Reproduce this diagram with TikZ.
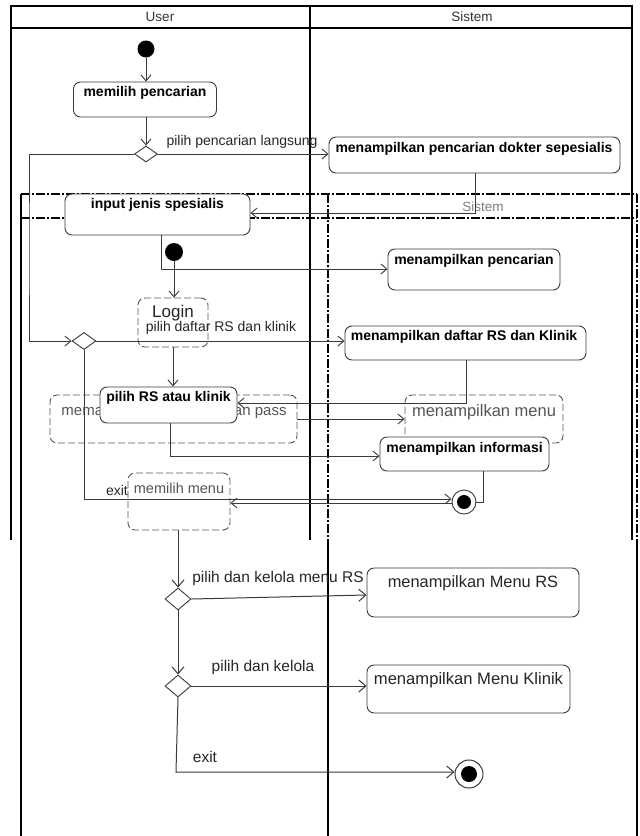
\documentclass[tikz,border=0pt]{standalone}
\usepackage{fontspec}
\setmainfont{Liberation Sans}
\usetikzlibrary{arrows.meta,shapes.geometric}
\definecolor{ln}{HTML}{3A3A3A}
\definecolor{gt}{HTML}{555555}
\tikzset{
  frame/.style={line width=1.8pt, black},
  dashframe/.style={line width=1.8pt, black, dash pattern=on 9pt off 2pt on 2pt off 2pt},
  abox/.style={draw=ln, line width=0.9pt, rounded corners=7pt, fill=white, inner sep=0pt},
  dbox/.style={abox, draw=gt, dash pattern=on 7pt off 3pt},
  btxt/.style={font=\bfseries\fontsize{14}{14}\selectfont, inner sep=0pt, text=black},
  ltxt/.style={font=\fontsize{14}{14}\selectfont, inner sep=0pt, text=black!85},
  ltxtL/.style={font=\fontsize{15.5}{15.5}\selectfont, inner sep=0pt, text=black!85},
  gtxt/.style={inner sep=0pt, text=gt},
  hdr/.style={font=\fontsize{13.5}{13.5}\selectfont, inner sep=0pt, text=black!80},
  dec/.style={diamond, draw=ln, fill=white, inner sep=0pt, line width=0.9pt},
  arr/.style={draw=ln, line width=0.9pt, -{Straight Barb[length=6pt,width=10pt]}},
  arrL/.style={draw=ln, line width=1pt, -{Straight Barb[length=7pt,width=12pt]}},
  plain/.style={draw=ln, line width=0.9pt},
}
\begin{document}
\begin{tikzpicture}[x=1pt,y=-1pt]
\useasboundingbox (0,0) rectangle (640,836);
\fill[white] (0,0) rectangle (640,836);
% second diagram frame
\draw[frame] (21,194) -- (21,836);
\draw[dashframe] (21,194) -- (637,194);
\draw[dashframe] (21,218) -- (637,218);
\draw[dashframe] (328,194) -- (328,540);
\draw[frame] (328,540) -- (328,836);
\draw[dashframe] (637,194) -- (637,540);
\draw[frame] (637,540) -- (637,836);
\node[hdr, text=gray] (s2hdr) at (483,207) {Sistem};
% top frame
\draw[frame] (11,540) -- (11,6) -- (632,6) -- (632,540);
\draw[frame] (11,28) -- (632,28);
\draw[frame] (310,6) -- (310,540);
\node[hdr] (huser) at (160,17) {User};
\node[hdr] (hsis) at (472,17) {Sistem};

% second diagram (dashed) activities
\node[circle, fill=black, minimum size=18pt, inner sep=0pt] (init2) at (174,252) {};
\node[dbox, minimum width=70pt, minimum height=49pt] (login) at (173,322.5) {};
\node[gtxt, text=black!85, font=\fontsize{17}{17}\selectfont] (logint) at (173,313) {Login};
\node[dbox, minimum width=247pt, minimum height=48pt] (masuk) at (173.5,419) {};
\node[gtxt, font=\fontsize{15}{15}\selectfont] (masukt) at (174,412) {memasukkan username dan pass};
\node[dbox, minimum width=158pt, minimum height=48pt] (menu) at (484,419) {};
\node[gtxt, font=\fontsize{16.5}{16.5}\selectfont] (menut) at (484,412) {menampilkan menu};
\node[dbox, minimum width=102pt, minimum height=57pt] (pmenu) at (179,501.5) {};
\node[gtxt, font=\fontsize{14.5}{14.5}\selectfont] (pmenut) at (179,488) {memilih menu};

% top diagram activities
\node[circle, fill=black, minimum size=17pt, inner sep=0pt] (init1) at (146,49) {};
\node[abox, minimum width=143pt, minimum height=35pt] (memilih) at (145,99.5) {};
\node[btxt] (memiliht) at (145,93) {memilih pencarian};
\node[dec, minimum width=23pt, minimum height=16pt] (dec1) at (146,154) {};
\node[abox, minimum width=291pt, minimum height=36pt] (dokter) at (474.5,155) {};
\node[btxt] (doktert) at (474,149) {menampilkan pencarian dokter sepesialis};
\node[abox, minimum width=185pt, minimum height=41pt] (input) at (157.5,214.5) {};
\node[btxt] (inputt) at (157.5,205) {input jenis spesialis};
\node[abox, minimum width=172pt, minimum height=41pt] (pencarian) at (474,269.5) {};
\node[btxt] (pencariant) at (474,261) {menampilkan pencarian};
\node[dec, minimum width=24pt, minimum height=17pt] (dec2) at (84,341) {};
\node[abox, minimum width=241pt, minimum height=34pt] (daftar) at (465.5,343) {};
\node[btxt] (daftart) at (464,337) {menampilkan daftar RS dan Klinik};
\node[abox, minimum width=137pt, minimum height=36pt] (pilihRS) at (168.5,405) {};
\node[btxt] (pilihRSt) at (168.5,398) {pilih RS atau klinik};
\node[abox, minimum width=169pt, minimum height=34pt] (informasi) at (464.5,454) {};
\node[btxt] (informasit) at (464.5,449) {menampilkan informasi};
\node[circle, draw=ln, fill=white, line width=0.9pt, minimum size=24pt, inner sep=0pt] (final1) at (464,502) {};
\node[circle, fill=black, minimum size=14pt, inner sep=0pt] (final1c) at (464,502) {};

% top diagram connectors
\coordinate (b1) at (29,250);
\coordinate (b2) at (475,213);
\coordinate (b3) at (161,269);
\coordinate (b4) at (84,499);
\coordinate (b5) at (466,403);
\coordinate (b6) at (170,456);
\coordinate (b7) at (483,502);
\draw[arr] (init1) -- (init1 |- memilih.north);
\draw[arr] (memilih.south -| dec1.north) -- (dec1.north);
\draw[arr] (dec1.east) -- (dec1.east -| dokter.west);
\node[ltxt] (l1) at (242,142) {pilih pencarian langsung};
\draw[arr] (dec1.west) -| (b1) |- (dec2.west);
\draw[arr] (b2 |- dokter.south) -- (b2) -- (b2 -| input.east);
\draw[arr] (b3 |- input.south) -- (b3) -- (b3 -| pencarian.west);
\draw[arr] (dec2.east) -- (dec2.east -| daftar.west);
\node[ltxt] (l2) at (221,328) {pilih daftar RS dan klinik};
\draw[arr] (dec2.south) -- (b4) -- (b4 -| final1.west);
\node[ltxt] (l3) at (117,490) {exit};
\draw[arr] (b5 |- daftar.south) -- (b5) -- (b5 -| pilihRS.east);
\draw[arr] (b6 |- pilihRS.south) -- (b6) -- (b6 -| informasi.west);
\draw[plain] (b7 |- informasi.south) -- (b7) -- (final1.east);

% second diagram connectors (upper)
\draw[arr] (init2) -- (init2 |- login.north);
\draw[arr] (login.south) -- (login.south |- pilihRS.north);
\draw[arr] (masuk.east) -- (masuk.east -| menu.west);
\draw[arr] ([yshift=-1pt]final1.west) -- ([yshift=-1pt]final1.west -| pmenu.east);

% lower part
\node[dec, minimum width=26pt, minimum height=22pt] (dec3) at (178,599) {};
\node[abox, minimum width=212pt, minimum height=49pt] (menuRS) at (473,592.5) {};
\node[ltxt, font=\fontsize{16.4}{16.4}\selectfont] (menuRSt) at (473,583) {menampilkan Menu RS};
\node[dec, minimum width=26pt, minimum height=22pt] (dec4) at (178,686) {};
\node[abox, minimum width=203pt, minimum height=48pt] (menuKl) at (468.5,689) {};
\node[ltxt, font=\fontsize{16.6}{16.6}\selectfont] (menuKlt) at (468.5,680) {menampilkan Menu Klinik};
\node[circle, draw=ln, fill=white, line width=1pt, minimum size=28pt, inner sep=0pt] (final2) at (469,774) {};
\node[circle, fill=black, minimum size=16pt, inner sep=0pt] (final2c) at (469,774) {};
\coordinate (b8) at (176,772);
\draw[arrL] (pmenu.south -| dec3.north) -- (dec3.north);
\draw[arrL] (dec3.east) -- ([yshift=-2.5pt]menuRS.west);
\node[ltxtL] (l4) at (278,578) {pilih dan kelola menu RS};
\draw[arrL] (dec3.south) -- (dec4.north);
\draw[arrL] (dec4.east) -- (dec4.east -| menuKl.west);
\node[ltxtL] (l5) at (263,667) {pilih dan kelola};
\draw[arrL] (dec4.south) -- (b8) -- (b8 -| final2.west);
\node[ltxtL] (l6) at (205,757) {exit};
\end{tikzpicture}
\end{document}
